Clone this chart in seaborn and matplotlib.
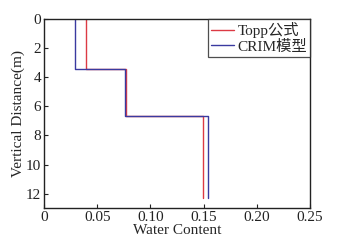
import numpy as np
import pandas as pd
import matplotlib
matplotlib.use("Agg")
import matplotlib.pyplot as plt
import seaborn as sns

# layer boundaries (m) and water content per layer
depth_edges = [0, 3.4, 6.65, 12.3]
topp_wc = [0.039, 0.077, 0.149]
crim_wc = [0.0295, 0.0758, 0.1545]
series_names = ["Topp公式", "CRIM模型"]
x_ticks = [0, 0.05, 0.10, 0.15, 0.20, 0.25]
x_ticklabels = ["0", "0.05", "0.10", "0.15", "0.20", "0.25"]
y_ticks = [0, 2, 4, 6, 8, 10, 12]


def step_profile(values):
    xs, ys = [], []
    for i, v in enumerate(values):
        xs += [v, v]
        ys += [depth_edges[i], depth_edges[i + 1]]
    return xs, ys


rows = []
for name, vals in zip(series_names, [topp_wc, crim_wc]):
    xs, ys = step_profile(vals)
    for k, (a, b) in enumerate(zip(xs, ys)):
        rows.append({"series": name, "order": k, "wc": a, "depth": b})
df = pd.DataFrame(rows)

sns.set_style("ticks")
plt.rcParams["font.family"] = ["Liberation Serif", "Noto Sans CJK SC"]
plt.rcParams["xtick.direction"] = "in"
plt.rcParams["ytick.direction"] = "in"

fig = plt.figure(figsize=(3.64, 2.42), dpi=100)
ax = fig.add_axes([0.121, 0.14, 0.731, 0.781])

sns.lineplot(data=df, x="wc", y="depth", hue="series", sort=False,
             estimator=None, units="series",
             palette=["#dc3a44", "#3a3aa0"], linewidth=1.0, ax=ax)

ax.set_xlim(0, 0.25)
ax.set_ylim(13, 0)
ax.set_xticks(x_ticks)
ax.set_xticklabels(x_ticklabels)
ax.set_yticks(y_ticks)
ax.tick_params(labelsize=11, length=3, width=0.8, colors="#222222", pad=2)
ax.set_xlabel("Water Content", fontsize=11, labelpad=0)
ax.set_ylabel("Vertical Distance(m)", fontsize=11, labelpad=1)
for s in ax.spines.values():
    s.set_linewidth(1.0)
    s.set_color("#222222")

leg = ax.legend(loc="upper right", fontsize=11, frameon=True, fancybox=False,
                borderaxespad=0, handlelength=1.5, borderpad=0.2,
                labelspacing=0.1, handletextpad=0.2)
leg.get_frame().set_edgecolor("#222222")
leg.get_frame().set_linewidth(0.9)

fig.savefig("out.png", dpi=100)
